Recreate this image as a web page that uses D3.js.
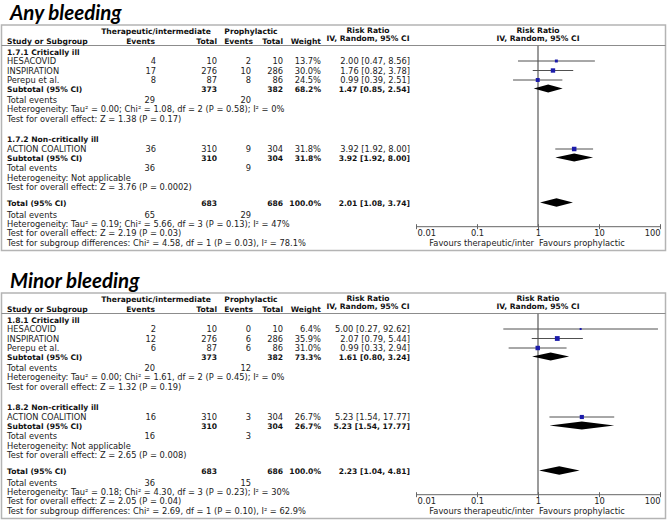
<!DOCTYPE html>
<html><head><meta charset="utf-8">
<script src="https://cdn.jsdelivr.net/npm/d3@7"></script>
<style>
html,body{margin:0;padding:0;background:#fff;}
svg{display:block;}
text{font-family:"DejaVu Sans",Verdana,sans-serif;font-size:8.3px;fill:#222;}
text.b{font-weight:bold;font-size:7.6px;fill:#111;}
text.title{font-family:Lato,sans-serif;font-weight:bold;font-style:italic;font-size:20.5px;fill:#000;}
</style></head><body>
<svg id="c" width="669" height="520"></svg>
<script>
// ---------------- data ----------------
const panelTitles = ["Any bleeding", "Minor bleeding"];
const groupHeaders = ["Therapeutic/intermediate", "Prophylactic"];
const studyNames = ["HESACOVID", "INSPIRATION", "Perepu et al.", "ACTION COALITION"];
const studySubgroup = [0, 0, 0, 1];

// Any bleeding
const anySubgroups = ["1.7.1 Critically ill", "1.7.2 Non-critically ill"];
const anyTherEvents = [4, 17, 8, 36];
const anyTherTotal = [10, 276, 87, 310];
const anyProEvents = [2, 10, 8, 9];
const anyProTotal = [10, 286, 86, 304];
const anyWeight = ["13.7%", "30.0%", "24.5%", "31.8%"];
const anyRR = [2.00, 1.76, 0.99, 3.92];
const anyLo = [0.47, 0.82, 0.39, 1.92];
const anyHi = [8.56, 3.78, 2.51, 8.00];
const anySubTherTotal = [373, 310];
const anySubProTotal = [382, 304];
const anySubWeight = ["68.2%", "31.8%"];
const anySubRR = [1.47, 3.92];
const anySubLo = [0.85, 1.92];
const anySubHi = [2.54, 8.00];
const anySubTherEvents = [29, 36];
const anySubProEvents = [20, 9];
const anySubHet = ["Heterogeneity: Tau² = 0.00; Chi² = 1.08, df = 2 (P = 0.58); I² = 0%", "Heterogeneity: Not applicable"];
const anySubTest = ["Test for overall effect: Z = 1.38 (P = 0.17)", "Test for overall effect: Z = 3.76 (P = 0.0002)"];
const anyTotal = [683, 686, "100.0%", 2.01, 1.08, 3.74, 65, 29];
const anyTotalHet = "Heterogeneity: Tau² = 0.19; Chi² = 5.66, df = 3 (P = 0.13); I² = 47%";
const anyTotalTest = "Test for overall effect: Z = 2.19 (P = 0.03)";
const anySubDiff = "Test for subgroup differences: Chi² = 4.58, df = 1 (P = 0.03), I² = 78.1%";

// Minor bleeding
const minSubgroups = ["1.8.1 Critically ill", "1.8.2 Non-critically ill"];
const minTherEvents = [2, 12, 6, 16];
const minTherTotal = [10, 276, 87, 310];
const minProEvents = [0, 6, 6, 3];
const minProTotal = [10, 286, 86, 304];
const minWeight = ["6.4%", "35.9%", "31.0%", "26.7%"];
const minRR = [5.00, 2.07, 0.99, 5.23];
const minLo = [0.27, 0.79, 0.33, 1.54];
const minHi = [92.62, 5.44, 2.94, 17.77];
const minSubTherTotal = [373, 310];
const minSubProTotal = [382, 304];
const minSubWeight = ["73.3%", "26.7%"];
const minSubRR = [1.61, 5.23];
const minSubLo = [0.80, 1.54];
const minSubHi = [3.24, 17.77];
const minSubTherEvents = [20, 16];
const minSubProEvents = [12, 3];
const minSubHet = ["Heterogeneity: Tau² = 0.00; Chi² = 1.61, df = 2 (P = 0.45); I² = 0%", "Heterogeneity: Not applicable"];
const minSubTest = ["Test for overall effect: Z = 1.32 (P = 0.19)", "Test for overall effect: Z = 2.65 (P = 0.008)"];
const minTotal = [683, 686, "100.0%", 2.23, 1.04, 4.81, 36, 15];
const minTotalHet = "Heterogeneity: Tau² = 0.18; Chi² = 4.30, df = 3 (P = 0.23); I² = 30%";
const minTotalTest = "Test for overall effect: Z = 2.05 (P = 0.04)";
const minSubDiff = "Test for subgroup differences: Chi² = 2.69, df = 1 (P = 0.10), I² = 62.9%";

const tickValues = [0.01, 0.1, 1, 10, 100];
const tickLabels = ["0.01", "0.1", "1", "10", "100"];
const favoursLabels = ["Favours therapeutic/inter", "Favours prophylactic"];

// ---------------- build panels ----------------
function buildPanel(title, subgroups, te, tt, pe, pt, w, rr, lo, hi, sTT, sPT, sW, sRR, sLo, sHi, sTE, sPE, sHet, sTest, tot, tHet, tTest, sDiff) {
  return {
    title,
    subgroups: subgroups.map((name, k) => ({
      name,
      studies: studyNames.map((n, i) => ({n, i})).filter(d => studySubgroup[d.i] === k).map(d => ({
        name: d.n, te: te[d.i], tt: tt[d.i], pe: pe[d.i], pt: pt[d.i], w: w[d.i], rr: rr[d.i], lo: lo[d.i], hi: hi[d.i]
      })),
      tt: sTT[k], pt: sPT[k], w: sW[k], rr: sRR[k], lo: sLo[k], hi: sHi[k], te: sTE[k], pe: sPE[k], het: sHet[k], test: sTest[k]
    })),
    total: {tt: tot[0], pt: tot[1], w: tot[2], rr: tot[3], lo: tot[4], hi: tot[5], te: tot[6], pe: tot[7], het: tHet, test: tTest, diff: sDiff}
  };
}
const panels = [
  buildPanel(panelTitles[0], anySubgroups, anyTherEvents, anyTherTotal, anyProEvents, anyProTotal, anyWeight, anyRR, anyLo, anyHi,
    anySubTherTotal, anySubProTotal, anySubWeight, anySubRR, anySubLo, anySubHi, anySubTherEvents, anySubProEvents, anySubHet, anySubTest,
    anyTotal, anyTotalHet, anyTotalTest, anySubDiff),
  buildPanel(panelTitles[1], minSubgroups, minTherEvents, minTherTotal, minProEvents, minProTotal, minWeight, minRR, minLo, minHi,
    minSubTherTotal, minSubProTotal, minSubWeight, minSubRR, minSubLo, minSubHi, minSubTherEvents, minSubProEvents, minSubHet, minSubTest,
    minTotal, minTotalHet, minTotalTest, minSubDiff)
];

// ---------------- layout ----------------
const COL = {name: 7, te: 156, tt: 217, pe: 251, pt: 283, w: 321, rr: 410, rrHead: 368, plotHead: 538};
const ROW = {
  hdr1: 31, hdr2: 40.5, sep: 45.5,
  g: [52, 139],
  st: [[61, 70.5, 80], [149]],
  sub: [88.5, 157.5], te: [99.5, 168], het: [109, 177.5], test: [118.5, 187],
  tot: 202.5, teT: 214.5, hetT: 224, testT: 233.3, diff: 242.7,
  axis: 226.7, tickLab: 233.5, fav: 242.5, boxTop: 25, boxBot: 250.5, title: 19.5
};
const panelOffsets = [0, 268];
const fmt = d3.format(".2f");
const ci = (r, l, h) => `${fmt(r)} [${fmt(l)}, ${fmt(h)}]`;

const x = d3.scaleLog().domain([0.01, 100]).range([416, 660]);
const svg = d3.select("#c");

function txt(g, s, xx, yc, anchor, bold) {
  return g.append("text").attr("x", xx).attr("y", yc + 3).attr("text-anchor", anchor || "start")
    .attr("class", bold ? "b" : null).text(s);
}
function diamond(g, lo, r, hi, yc, hh) {
  g.append("path")
    .attr("d", `M${x(lo)},${yc}L${x(r)},${yc - hh}L${x(hi)},${yc}L${x(r)},${yc + hh}Z`)
    .attr("fill", "#000");
}

panels.forEach((P, pi) => {
  const g = svg.append("g").attr("transform", `translate(0,${panelOffsets[pi]})`);
  g.append("text").attr("class", "title").attr("x", 10).attr("y", ROW.title).text(P.title);
  g.append("rect").attr("x", 1.5).attr("y", ROW.boxTop).attr("width", 664).attr("height", ROW.boxBot - ROW.boxTop)
    .attr("fill", "none").attr("stroke", "#b4b4b4").attr("stroke-width", 1.5);
  g.append("line").attr("x1", 1.5).attr("x2", 665.5).attr("y1", ROW.sep).attr("y2", ROW.sep)
    .attr("stroke", "#8c8c8c").attr("stroke-width", 1);

  // headers
  txt(g, groupHeaders[0], 156, ROW.hdr1, "middle", true);
  txt(g, groupHeaders[1], 251, ROW.hdr1, "middle", true);
  txt(g, "Risk Ratio", COL.rrHead, ROW.hdr1 - 1.5, "middle", true);
  txt(g, "Risk Ratio", COL.plotHead, ROW.hdr1 - 1.5, "middle", true);
  txt(g, "Study or Subgroup", COL.name, ROW.hdr2, "start", true);
  txt(g, "Events", 155, ROW.hdr2, "end", true);
  txt(g, "Total", 217, ROW.hdr2, "end", true);
  txt(g, "Events", 253, ROW.hdr2, "end", true);
  txt(g, "Total", 283, ROW.hdr2, "end", true);
  txt(g, "Weight", 321, ROW.hdr2, "end", true);
  txt(g, "IV, Random, 95% CI", COL.rrHead, ROW.hdr2 - 2.5, "middle", true);
  txt(g, "IV, Random, 95% CI", COL.plotHead, ROW.hdr2 - 2.5, "middle", true);

  // null line
  g.append("line").attr("x1", x(1)).attr("x2", x(1)).attr("y1", ROW.sep).attr("y2", ROW.axis)
    .attr("stroke", "#7a7a7a").attr("stroke-width", 1.5);

  P.subgroups.forEach((S, k) => {
    txt(g, S.name, COL.name, ROW.g[k], "start", true);
    S.studies.forEach((d, j) => {
      const y = ROW.st[k][j];
      txt(g, d.name, COL.name, y);
      txt(g, d.te, COL.te, y, "end");
      txt(g, d.tt, COL.tt, y, "end");
      txt(g, d.pe, COL.pe, y, "end");
      txt(g, d.pt, COL.pt, y, "end");
      txt(g, d.w, COL.w, y, "end");
      txt(g, ci(d.rr, d.lo, d.hi), COL.rr, y, "end");
      g.append("line").attr("x1", x(d.lo)).attr("x2", x(d.hi)).attr("y1", y).attr("y2", y)
        .attr("stroke", "#505050").attr("stroke-width", 1);
      const s = Math.sqrt(parseFloat(d.w)) * 0.8;
      g.append("rect").attr("x", x(d.rr) - s / 2).attr("y", y - s / 2).attr("width", s).attr("height", s)
        .attr("fill", "#1c1caa");
    });
    const ys = ROW.sub[k];
    txt(g, "Subtotal (95% CI)", COL.name, ys, "start", true);
    txt(g, S.tt, COL.tt, ys, "end", true);
    txt(g, S.pt, COL.pt, ys, "end", true);
    txt(g, S.w, COL.w, ys, "end", true);
    txt(g, ci(S.rr, S.lo, S.hi), COL.rr, ys, "end", true);
    diamond(g, S.lo, S.rr, S.hi, ys, 4);
    txt(g, "Total events", COL.name, ROW.te[k]);
    txt(g, S.te, COL.te - 1, ROW.te[k], "end");
    txt(g, S.pe, COL.pe, ROW.te[k], "end");
    txt(g, S.het, COL.name, ROW.het[k]);
    txt(g, S.test, COL.name, ROW.test[k]);
  });

  const T = P.total;
  txt(g, "Total (95% CI)", COL.name, ROW.tot, "start", true);
  txt(g, T.tt, COL.tt, ROW.tot, "end", true);
  txt(g, T.pt, COL.pt, ROW.tot, "end", true);
  txt(g, T.w, COL.w, ROW.tot, "end", true);
  txt(g, ci(T.rr, T.lo, T.hi), COL.rr, ROW.tot, "end", true);
  diamond(g, T.lo, T.rr, T.hi, ROW.tot, 4.3);
  txt(g, "Total events", COL.name, ROW.teT);
  txt(g, T.te, COL.te - 1, ROW.teT, "end");
  txt(g, T.pe, COL.pe, ROW.teT, "end");
  txt(g, T.het, COL.name, ROW.hetT);
  txt(g, T.test, COL.name, ROW.testT);
  txt(g, T.diff, COL.name, ROW.diff);

  // axis
  const ax = g.append("g").attr("transform", `translate(0,${ROW.axis})`)
    .call(d3.axisBottom(x).tickValues(tickValues).tickFormat((d, i) => tickLabels[i]).tickSize(2.5).tickPadding(2));
  ax.select(".domain").attr("stroke", "#666").attr("d", `M${x(0.01)},0H${x(100)}`);
  ax.selectAll(".tick line").attr("y1", -2.5).attr("y2", 2.5).attr("stroke", "#666");
  ax.selectAll(".tick text").attr("y", ROW.tickLab - ROW.axis + 3).attr("dy", null)
    .style("font-family", '"DejaVu Sans",sans-serif').style("font-size", "8.3px").attr("fill", "#222")
    .attr("text-anchor", (d, i) => i === 0 ? "start" : (i === tickValues.length - 1 ? "end" : "middle"))
    .attr("dx", (d, i) => i === 0 ? 1 : 0);
  txt(g, favoursLabels[0], x(1) - 4, ROW.fav, "end");
  txt(g, favoursLabels[1], x(1) + 1, ROW.fav, "start");
});
</script>
</body></html>
